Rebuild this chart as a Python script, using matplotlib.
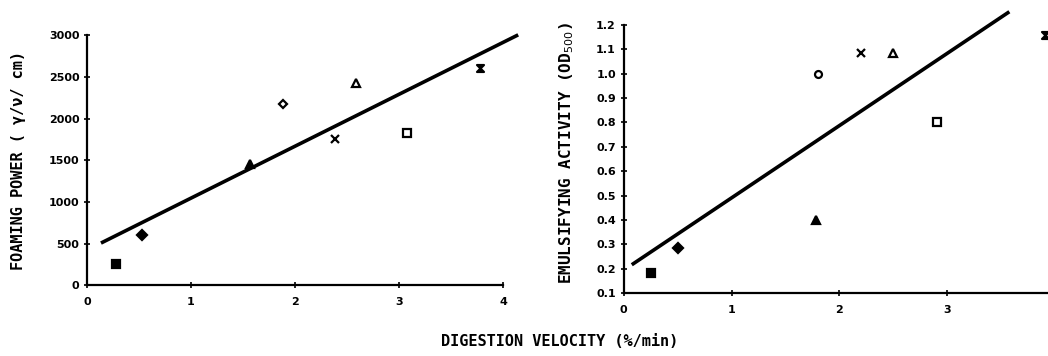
import matplotlib.pyplot as plt
from matplotlib.path import Path
import numpy as np

# === data ===
# left: foaming power
foam_x = [0.28, 0.53, 1.57, 1.88, 2.38, 2.59, 3.08, 3.78]
foam_y = [250, 600, 1460, 2170, 1750, 2430, 1830, 2610]
foam_fit_x = [0.15, 4.13]
foam_fit_y = [515, 2995]

# right: emulsifying activity
emul_x = [0.25, 0.50, 1.78, 1.80, 2.20, 2.50, 2.90, 3.90]
emul_y = [0.18, 0.285, 0.40, 1.00, 1.085, 1.085, 0.80, 1.16]
emul_fit_x = [0.09, 3.56]
emul_fit_y = [0.22, 1.25]

hourglass = Path([(-1, 1), (1, 1), (-1, -1), (1, -1), (-1, 1)],
                 [Path.MOVETO, Path.LINETO, Path.LINETO, Path.LINETO, Path.CLOSEPOLY])

# marker style per point (same order in both panels)
left_markers = [("s", True, 6), ("D", True, 5), ("^", True, 6), ("D", False, 4.5),
                ("x", True, 6), ("^", False, 5.5), ("s", False, 5.5), (hourglass, True, 5)]
right_markers = [("s", True, 6), ("D", True, 5), ("^", True, 6), ("o", False, 5),
                 ("x", True, 6), ("^", False, 5.5), ("s", False, 5.5), (hourglass, True, 5)]

label_font = dict(family="DejaVu Sans Mono", weight="bold", size=11)

fig = plt.figure(figsize=(10.48, 3.56), dpi=100)
ax1 = fig.add_axes([0.083, 0.199, 0.397, 0.702])
ax2 = fig.add_axes([0.595, 0.177, 0.412, 0.753])


def style(ax):
    for s in ["top", "right"]:
        ax.spines[s].set_visible(False)
    for s in ["left", "bottom"]:
        ax.spines[s].set_linewidth(1.6)
    ax.tick_params(direction="inout", length=5, width=1.2, labelsize=8, pad=3)
    for lab in ax.get_xticklabels() + ax.get_yticklabels():
        lab.set_fontweight("bold")


def draw_points(ax, xs, ys, markers):
    for x, y, (m, filled, size) in zip(xs, ys, markers):
        face = "black" if filled else "white"
        ax.plot(x, y, marker=m, markerfacecolor=face, markeredgecolor="black",
                markersize=size, markeredgewidth=1.6, linestyle="none", clip_on=False)


# left panel
ax1.plot(foam_fit_x, foam_fit_y, color="black", linewidth=2.6, clip_on=False)
draw_points(ax1, foam_x, foam_y, left_markers)
ax1.set_xlim(0, 4)
ax1.set_ylim(0, 3000)
ax1.set_xticks([0, 1, 2, 3, 4])
ax1.set_yticks(np.arange(0, 3001, 500))
style(ax1)
ax1.tick_params(axis="x", pad=6)

# right panel (x axis runs on past the right edge of the figure)
ax2.plot(emul_fit_x, emul_fit_y, color="black", linewidth=2.6, clip_on=False)
draw_points(ax2, emul_x, emul_y, right_markers)
ax2.set_xlim(0, 4)
ax2.set_ylim(0.1, 1.2)
ax2.set_xticks([0, 1, 2, 3])
ax2.set_yticks(np.round(np.arange(0.1, 1.21, 0.1), 1))
ax2.set_yticklabels([f"{v:.1f}" for v in np.arange(0.1, 1.21, 0.1)])
style(ax2)
ax2.tick_params(axis="x", pad=6)

fig.text(0.018, 0.55, "FOAMING POWER ( \u03b3/\u03bd/ cm)", rotation=90,
         ha="center", va="center", **label_font)
fig.text(0.541, 0.57, "EMULSIFYING ACTIVITY (OD$_{500}$)", rotation=90,
         ha="center", va="center", family="DejaVu Sans Mono", weight="bold", size=11.5)
fig.text(0.534, 0.042, "DIGESTION VELOCITY (%/min)", ha="center", va="center",
         **label_font)

fig.savefig("out.png", dpi=100)
